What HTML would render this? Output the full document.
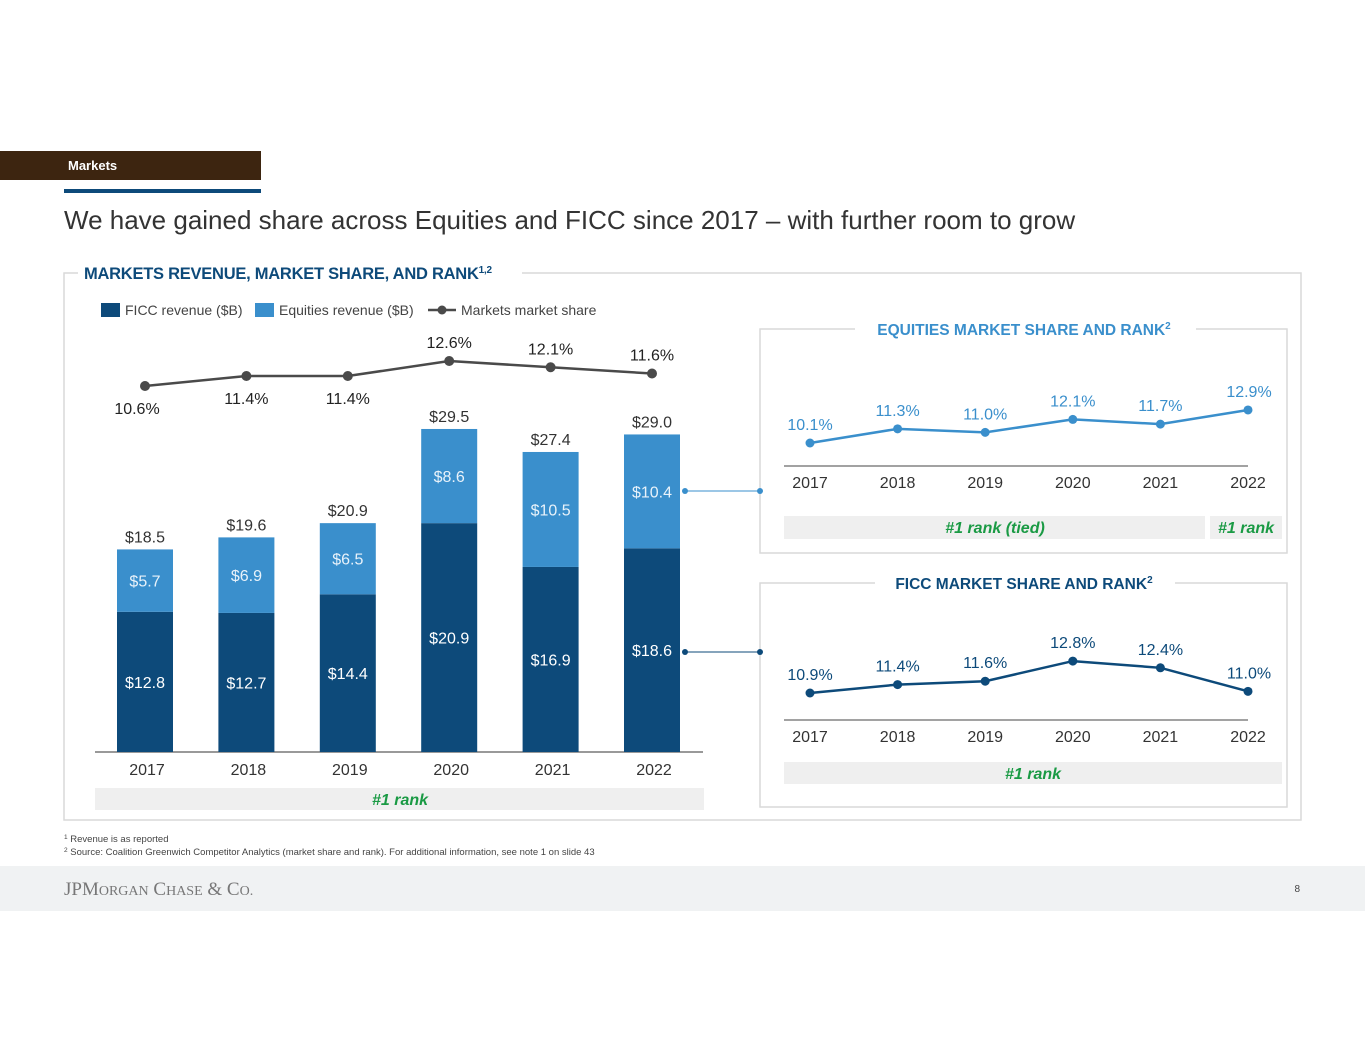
<!DOCTYPE html>
<html><head><meta charset="utf-8"><style>
body{margin:0;background:#fff;width:1365px;height:1055px;overflow:hidden;font-family:"Liberation Sans",Arial,sans-serif}
svg text{font-family:"Liberation Sans",Arial,sans-serif}
</style></head><body>
<svg id="s" width="1365" height="1055" viewBox="0 0 1365 1055" xmlns="http://www.w3.org/2000/svg">
<g>
<rect x="0" y="151" width="261" height="29" fill="#3d2510"/>
<text x="68" y="170" font-size="13" font-weight="bold" fill="#fff">Markets</text>
<rect x="64" y="189" width="197" height="4" fill="#0d4a7a"/>
<text x="64" y="229" font-size="26" fill="#333">We have gained share across Equities and FICC since 2017 – with further room to grow</text>
</g>
<g>
<path d="M78 273 H64 V820 H1301 V273 H522" fill="none" stroke="#d9d9d9" stroke-width="1.5"/>
<text x="84" y="279" font-size="16.5" font-weight="bold" fill="#0d4a7a" textLength="408">MARKETS REVENUE, MARKET SHARE, AND RANK<tspan font-size="10" dy="-6">1,2</tspan></text>
<g>
<rect x="101" y="303" width="19" height="14" fill="#0d4a7a"/>
<text x="125" y="315" font-size="14" fill="#444">FICC revenue ($B)</text>
<rect x="255" y="303" width="19" height="14" fill="#3a8fcc"/>
<text x="279" y="315" font-size="14" fill="#444">Equities revenue ($B)</text>
<line x1="428" y1="310" x2="456" y2="310" stroke="#4a4a4a" stroke-width="2.5"/>
<circle cx="442" cy="310" r="4.5" fill="#4a4a4a"/>
<text x="461" y="315" font-size="14" fill="#444">Markets market share</text>
</g>
<g id="main"></g>
<rect x="95" y="788" width="609" height="22" fill="#efefef"/>
<text x="400" y="805" font-size="16" font-weight="bold" font-style="italic" fill="#1a9a44" text-anchor="middle">#1 rank</text>
</g>
<g>
<path d="M855 329 H760 V553 H1287 V329 H1196" fill="none" stroke="#d9d9d9" stroke-width="1.5"/>
<text x="1024" y="335" font-size="15.5" font-weight="bold" fill="#3a8fcc" text-anchor="middle">EQUITIES MARKET SHARE AND RANK<tspan font-size="10" dy="-6">2</tspan></text>
<g id="eq"></g>
<rect x="784" y="516" width="421" height="23" fill="#efefef"/>
<rect x="1210" y="516" width="72" height="23" fill="#efefef"/>
<text x="995" y="533" font-size="16" font-weight="bold" font-style="italic" fill="#1a9a44" text-anchor="middle">#1 rank (tied)</text>
<text x="1246" y="533" font-size="16" font-weight="bold" font-style="italic" fill="#1a9a44" text-anchor="middle">#1 rank</text>
</g>
<g>
<path d="M875 583 H760 V807 H1287 V583 H1175" fill="none" stroke="#d9d9d9" stroke-width="1.5"/>
<text x="1024" y="589" font-size="15.5" font-weight="bold" fill="#0d4a7a" text-anchor="middle">FICC MARKET SHARE AND RANK<tspan font-size="10" dy="-6">2</tspan></text>
<g id="fi"></g>
<rect x="784" y="762" width="498" height="22" fill="#efefef"/>
<text x="1033" y="779" font-size="16" font-weight="bold" font-style="italic" fill="#1a9a44" text-anchor="middle">#1 rank</text>
</g>
<g>
<line x1="685" y1="491" x2="760" y2="491" stroke="#3a8fcc" stroke-width="1"/>
<circle cx="685" cy="491" r="3" fill="#3a8fcc"/><circle cx="760" cy="491" r="3" fill="#3a8fcc"/>
<line x1="685" y1="652" x2="760" y2="652" stroke="#0d4a7a" stroke-width="1"/>
<circle cx="685" cy="652" r="3" fill="#0d4a7a"/><circle cx="760" cy="652" r="3" fill="#0d4a7a"/>
</g>
<g>
<text x="64" y="842" font-size="9.5" fill="#444"><tspan font-size="6.5" dy="-3">1</tspan><tspan dy="3"> Revenue is as reported</tspan></text>
<text x="64" y="855" font-size="9.5" fill="#444"><tspan font-size="6.5" dy="-3">2</tspan><tspan dy="3"> Source: Coalition Greenwich Competitor Analytics (market share and rank). For additional information, see note 1 on slide 43</tspan></text>
</g>
<rect x="0" y="866" width="1365" height="45" fill="#f0f2f3"/>
<text x="64" y="895" font-size="19" fill="#777" style="font-family:'Liberation Serif',serif">JPM<tspan font-size="14">ORGAN</tspan> C<tspan font-size="14">HASE</tspan> &amp; C<tspan font-size="14">O.</tspan></text>
<text x="1300" y="892" font-size="10" fill="#444" text-anchor="end">8</text>
</svg>
<script>
const years=["2017","2018","2019","2020","2021","2022"];
const ficcRev=[12.8,12.7,14.4,20.9,16.9,18.6];
const eqRev=[5.7,6.9,6.5,8.6,10.5,10.4];
const mktShare=[10.6,11.4,11.4,12.6,12.1,11.6];
const eqShare=[10.1,11.3,11.0,12.1,11.7,12.9];
const ficcShare=[10.9,11.4,11.6,12.8,12.4,11.0];
const NS="http://www.w3.org/2000/svg";
function mk(p,t,a,txt){const e=document.createElementNS(NS,t);for(const k in a)e.setAttribute(k,a[k]);if(txt!=null)e.textContent=txt;p.appendChild(e);return e;}
const g=document.getElementById('main');
const bx=i=>145+i*101.4, by=v=>752-v*10.95, sy=v=>386-(v-10.6)*12.5;
mk(g,'line',{x1:95,y1:752,x2:703,y2:752,stroke:'#333','stroke-width':1});
years.forEach((y,i)=>{
 const x=bx(i),tot=ficcRev[i]+eqRev[i];
 let r=mk(g,'rect',{x:x-28,y:by(ficcRev[i]),width:56,height:752-by(ficcRev[i]),fill:'#0d4a7a'});
 
 
 r=mk(g,'rect',{x:x-28,y:by(tot),width:56,height:by(ficcRev[i])-by(tot),fill:'#3a8fcc'});
 
 
 mk(g,'text',{x:x,y:(by(ficcRev[i])+752)/2+6,'font-size':16,fill:'#fff','text-anchor':'middle'},'$'+ficcRev[i].toFixed(1));
 mk(g,'text',{x:x,y:(by(ficcRev[i])+by(tot))/2+6,'font-size':16,fill:'#e8f2fa','text-anchor':'middle'},'$'+eqRev[i].toFixed(1));
 mk(g,'text',{x:x,y:by(tot)-7,'font-size':16,fill:'#333','text-anchor':'middle'},'$'+tot.toFixed(1));
 mk(g,'text',{x:x+2,y:775,'font-size':16,fill:'#333','text-anchor':'middle'},y);
});
mk(g,'polyline',{points:mktShare.map((v,i)=>bx(i)+','+sy(v)).join(' '),fill:'none',stroke:'#4a4a4a','stroke-width':2.5});
mktShare.forEach((v,i)=>{
 const c=mk(g,'circle',{cx:bx(i),cy:sy(v),r:5,fill:'#4a4a4a'});
 
 
 const below=i<3;
 mk(g,'text',{x:bx(i)-(i==0?8:0),y:below?sy(v)+28:sy(v)-13,'font-size':16,fill:'#222','text-anchor':'middle'},v.toFixed(1)+'%');
});
function small(id,data,color,base,ppu,v0,axisY){
 const p=document.getElementById(id);
 const x=i=>810+i*87.6, y=v=>base-(v-v0)*ppu;
 mk(p,'line',{x1:784,y1:axisY,x2:1248,y2:axisY,stroke:'#444','stroke-width':1});
 mk(p,'polyline',{points:data.map((v,i)=>x(i)+','+y(v)).join(' '),fill:'none',stroke:color,'stroke-width':2.5});
 data.forEach((v,i)=>{
  const c=mk(p,'circle',{cx:x(i),cy:y(v),r:4.5,fill:color});
  
  
  mk(p,'text',{x:x(i)+(i==5?1:0),y:y(v)-13,'font-size':16,fill:color,'text-anchor':'middle'},v.toFixed(1)+'%');
  mk(p,'text',{x:x(i),y:axisY+22,'font-size':16,fill:'#333','text-anchor':'middle'},years[i]);
 });
}
small('eq',eqShare,'#3a8fcc',443,11.8,10.1,466);
small('fi',ficcShare,'#0d4a7a',693,16.8,10.9,720);
</script>
</body></html>
